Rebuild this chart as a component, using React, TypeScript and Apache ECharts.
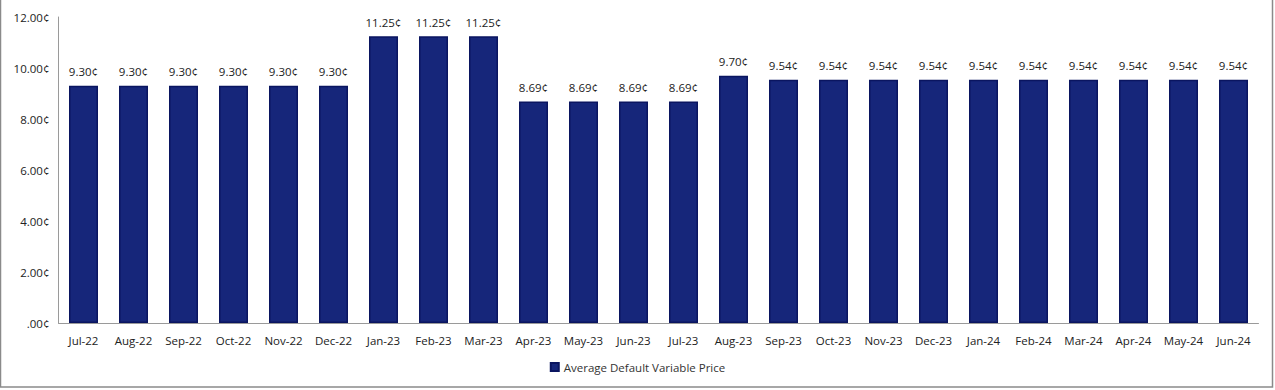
import React, { useEffect, useRef } from "react";
import * as echarts from "echarts";

const categories = [
  "Jul-22", "Aug-22", "Sep-22", "Oct-22", "Nov-22", "Dec-22",
  "Jan-23", "Feb-23", "Mar-23", "Apr-23", "May-23", "Jun-23",
  "Jul-23", "Aug-23", "Sep-23", "Oct-23", "Nov-23", "Dec-23",
  "Jan-24", "Feb-24", "Mar-24", "Apr-24", "May-24", "Jun-24",
];
const prices = [
  9.3, 9.3, 9.3, 9.3, 9.3, 9.3,
  11.25, 11.25, 11.25, 8.69, 8.69, 8.69,
  8.69, 9.7, 9.54, 9.54, 9.54, 9.54,
  9.54, 9.54, 9.54, 9.54, 9.54, 9.54,
];
const seriesName = "Average Default Variable Price";

const fmt = (v: number) => (v === 0 ? ".00¢" : v.toFixed(2) + "¢");
const FONT = "'Open Sans', 'Noto Sans', sans-serif";

export default function App() {
  const ref = useRef<HTMLDivElement>(null);
  useEffect(() => {
    if (!ref.current) return;
    const chart = echarts.init(ref.current, undefined, { renderer: "svg" });
    chart.setOption({
      animation: false,
      backgroundColor: "#ffffff",
      textStyle: { fontFamily: FONT },
      graphic: [
        {
          type: "rect",
          shape: { x: 0.5, y: -2, width: 1272, height: 389 },
          style: { fill: "none", stroke: "#8a8a8a", lineWidth: 1.5 },
          silent: true,
        },
      ],
      grid: { left: 58.5, right: 16.5, top: 17, bottom: 67 },
      legend: {
        bottom: 12,
        left: "center",
        itemWidth: 8,
        itemHeight: 8,
        icon: "rect",
        textStyle: { fontSize: 11.5, color: "#333", fontFamily: FONT },
        data: [seriesName],
      },
      xAxis: {
        type: "category",
        data: categories,
        axisLine: { lineStyle: { color: "#9a9a9a" } },
        axisTick: { show: false },
        axisLabel: { interval: 0, color: "#222", fontSize: 11.5, margin: 11, fontFamily: FONT },
      },
      yAxis: {
        type: "value",
        min: 0,
        max: 12,
        interval: 2,
        axisLine: { show: true, lineStyle: { color: "#9a9a9a" } },
        axisTick: { show: false },
        splitLine: { show: false },
        axisLabel: { color: "#222", fontSize: 11.5, margin: 9, formatter: fmt, fontFamily: FONT },
      },
      series: [
        {
          name: seriesName,
          type: "bar",
          data: prices,
          barWidth: "58%",
          itemStyle: { color: "#16267a", borderColor: "#0a1560", borderWidth: 1.5 },
          label: {
            show: true,
            position: "top",
            distance: 8,
            color: "#222",
            fontSize: 11.5,
            fontFamily: FONT,
            formatter: (p: any) => fmt(p.value),
          },
        },
      ],
    });
    return () => chart.dispose();
  }, []);
  return <div ref={ref} style={{ width: 1275, height: 390, position: "absolute", left: 0, top: 0 }} />;
}
